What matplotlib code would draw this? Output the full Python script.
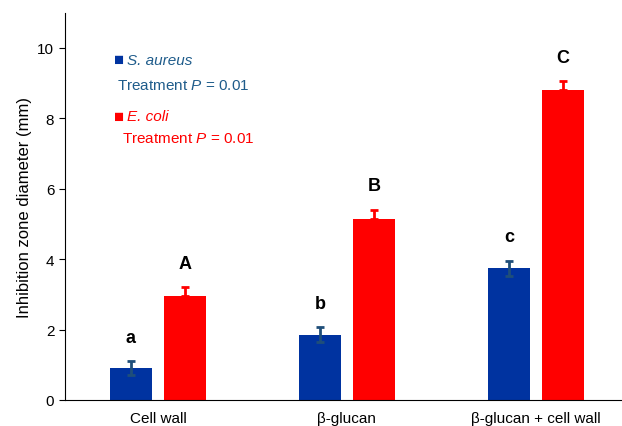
import numpy as np
import matplotlib
matplotlib.use("Agg")
from matplotlib import pyplot as plt

plt.rcParams["font.family"] = ["Liberation Sans", "DejaVu Sans"]
plt.rcParams["mathtext.fontset"] = "custom"
plt.rcParams["mathtext.it"] = "Liberation Sans:italic"
plt.rcParams["mathtext.rm"] = "Liberation Sans"

groups = ["Cell wall", "β-glucan", "β-glucan + cell wall"]
saureus = [0.90, 1.85, 3.74]
saureus_err = [0.20, 0.21, 0.22]
ecoli = [2.95, 5.15, 8.81]
ecoli_err = [0.25, 0.25, 0.24]
letters_sa = ["a", "b", "c"]
letters_ec = ["A", "B", "C"]

blue = "#0033A0"
errblue = "#1F4E79"
red = "#FF0000"
txtblue = "#1F5C8B"

fig = plt.figure(figsize=(6.22, 4.27), dpi=100)
ax = fig.add_axes([0.104, 0.061, 0.896, 0.907])

x = np.arange(len(groups))
w = 0.222
off = 0.143

ax.bar(x - off, saureus, w, color=blue, zorder=2)
ax.errorbar(x - off, saureus, yerr=saureus_err, fmt="none", ecolor=errblue,
            elinewidth=2, capsize=3, capthick=2, zorder=3)
ax.bar(x + off, ecoli, w, color=red, zorder=2)
ax.errorbar(x + off, ecoli, yerr=[np.zeros(3), ecoli_err], fmt="none", ecolor=red,
            elinewidth=2, capsize=3, capthick=2, zorder=3)

for i in range(3):
    ax.text(x[i] - off, saureus[i] + saureus_err[i] + 0.68, letters_sa[i],
            ha="center", va="center", fontsize=13, fontweight="bold")
    ax.text(x[i] + off, ecoli[i] + ecoli_err[i] + 0.68, letters_ec[i],
            ha="center", va="center", fontsize=13, fontweight="bold")

ax.set_xlim(-0.493, 2.455)
ax.set_ylim(0, 11)
ax.set_yticks([0, 2, 4, 6, 8, 10])
ax.set_xticks(x)
ax.set_xticklabels(groups, fontsize=11)
ax.tick_params(axis="x", length=0, pad=8)
ax.tick_params(axis="y", labelsize=11, direction="out", length=4)
ax.set_ylabel("Inhibition zone diameter (mm)", fontsize=12)
ax.spines["top"].set_visible(False)
ax.spines["right"].set_visible(False)

# legend-like annotations
ax.text(0.089, 0.878, "\u25a0", transform=ax.transAxes, color=blue, fontsize=12,
        va="center", ha="left")
ax.text(0.112, 0.878, "S. aureus", transform=ax.transAxes, color=txtblue,
        fontsize=11, style="italic", va="center", ha="left")
ax.text(0.094, 0.813, "Treatment $\\it{P}$ = 0.01", transform=ax.transAxes,
        color=txtblue, fontsize=11, va="center", ha="left")
ax.text(0.089, 0.733, "\u25a0", transform=ax.transAxes, color=red, fontsize=12,
        va="center", ha="left")
ax.text(0.112, 0.733, "E. coli", transform=ax.transAxes, color=red,
        fontsize=11, style="italic", va="center", ha="left")
ax.text(0.103, 0.676, "Treatment $\\it{P}$ = 0.01", transform=ax.transAxes,
        color=red, fontsize=11, va="center", ha="left")

fig.savefig("out.png", dpi=100)
